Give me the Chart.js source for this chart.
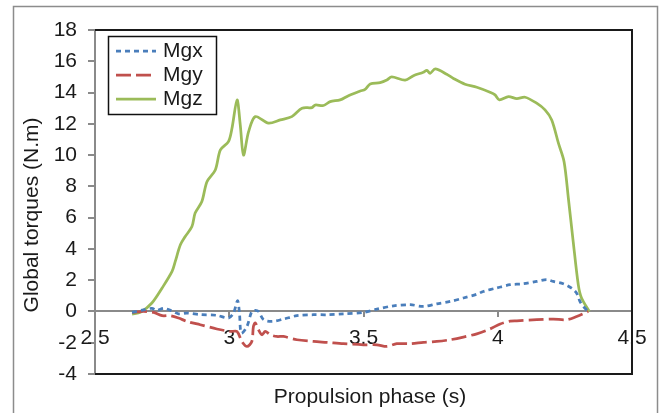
<!DOCTYPE html>
<html>
<head>
<meta charset="utf-8">
<script src="https://cdn.jsdelivr.net/npm/chart.js@4/dist/chart.umd.min.js"></script>
<style>
  html, body { margin: 0; padding: 0; background: #fff; }
  #wrap { width: 659px; height: 413px; position: relative; }
</style>
</head>
<body>
<div id="wrap"><canvas id="c" width="659" height="413"></canvas></div>
<script>
// Global torques about the three axes during the propulsion phase
const seriesNames = ['Mgx', 'Mgy', 'Mgz'];
const xAxisTitle = 'Propulsion phase (s)';
const yAxisTitle = 'Global torques (N.m)';

const mgxTime = [2.638, 2.681, 2.712, 2.731, 2.756, 2.781, 2.811, 2.843, 2.892, 2.954, 2.997, 3.016, 3.031, 3.038, 3.045, 3.066, 3.084, 3.097, 3.109, 3.128, 3.159, 3.202, 3.252, 3.314, 3.364, 3.425, 3.500, 3.550, 3.612, 3.674, 3.723, 3.773, 3.823, 3.872, 3.922, 3.946, 3.996, 4.046, 4.095, 4.145, 4.182, 4.207, 4.244, 4.275, 4.294, 4.306, 4.319, 4.337];
const mgxTorque = [-0.06, 0.10, 0.20, 0.07, 0.20, 0.07, -0.15, -0.10, -0.20, -0.25, -0.42, -0.10, 0.70, -0.10, -1.38, -0.96, 0.00, 0.07, 0.00, -0.53, -0.64, -0.49, -0.27, -0.21, -0.21, -0.15, -0.06, 0.15, 0.36, 0.43, 0.32, 0.49, 0.64, 0.86, 1.10, 1.28, 1.50, 1.71, 1.77, 1.92, 2.03, 1.92, 1.77, 1.49, 1.17, 0.64, 0.32, 0.00];

const mgyTime = [2.638, 2.681, 2.718, 2.750, 2.780, 2.811, 2.843, 2.892, 2.954, 3.004, 3.029, 3.047, 3.066, 3.084, 3.090, 3.097, 3.109, 3.122, 3.134, 3.153, 3.177, 3.202, 3.252, 3.314, 3.364, 3.425, 3.500, 3.550, 3.587, 3.624, 3.674, 3.723, 3.773, 3.823, 3.872, 3.922, 3.971, 4.009, 4.046, 4.071, 4.145, 4.207, 4.257, 4.294, 4.337];
const mgyTorque = [-0.06, 0.00, -0.06, -0.27, -0.27, -0.42, -0.64, -0.85, -1.12, -1.28, -1.28, -1.92, -2.24, -1.92, -0.96, -0.74, -1.17, -1.49, -1.28, -1.49, -1.60, -1.60, -1.81, -1.92, -1.98, -2.06, -2.13, -2.13, -2.24, -2.06, -2.06, -1.98, -1.92, -1.81, -1.64, -1.43, -1.12, -0.80, -0.62, -0.60, -0.53, -0.49, -0.53, -0.32, 0.00];

const mgzTime = [2.638, 2.669, 2.712, 2.750, 2.787, 2.799, 2.818, 2.836, 2.861, 2.873, 2.898, 2.917, 2.948, 2.967, 2.997, 3.010, 3.029, 3.041, 3.053, 3.072, 3.097, 3.146, 3.190, 3.233, 3.271, 3.308, 3.320, 3.351, 3.376, 3.413, 3.444, 3.488, 3.506, 3.525, 3.562, 3.587, 3.605, 3.655, 3.686, 3.723, 3.736, 3.748, 3.767, 3.810, 3.835, 3.878, 3.922, 3.971, 3.990, 4.006, 4.040, 4.071, 4.102, 4.145, 4.176, 4.201, 4.226, 4.247, 4.263, 4.281, 4.300, 4.312, 4.341];
const mgzTorque = [-0.17, -0.06, 0.54, 1.50, 2.56, 3.20, 4.26, 4.79, 5.43, 6.29, 7.03, 8.30, 9.05, 10.33, 10.86, 11.70, 13.53, 11.93, 10.00, 11.50, 12.46, 12.04, 12.25, 12.46, 13.00, 13.04, 13.20, 13.17, 13.42, 13.53, 13.80, 14.10, 14.20, 14.55, 14.63, 14.80, 15.00, 14.80, 15.08, 15.30, 15.42, 15.23, 15.51, 15.17, 14.90, 14.53, 14.34, 14.02, 13.85, 13.53, 13.74, 13.61, 13.70, 13.32, 12.89, 12.25, 10.76, 9.58, 7.24, 4.47, 1.70, 0.86, 0.00];

const FONT = "'Liberation Sans', Arial, Helvetica, sans-serif";
const TEXT = '#1a1a1a';
const AXIS_GREY = '#8a8a8a';

const pairs = (xs, ys) => xs.map((x, i) => ({ x, y: ys[i] }));

// Plot frame, outer frame and axis titles
const framePlugin = {
  id: 'frame',
  beforeDraw(chart) {
    const ctx = chart.ctx;
    ctx.save();
    ctx.fillStyle = '#fff';
    ctx.fillRect(0, 0, chart.width, chart.height);
    ctx.strokeStyle = '#8c8c8c';
    ctx.lineWidth = 1.5;
    ctx.strokeRect(13.5, 6.5, 644, 460);
    ctx.restore();
  },
  afterDraw(chart) {
    const { ctx, chartArea: a } = chart;
    ctx.save();
    ctx.strokeStyle = '#1a1a1a';
    ctx.lineWidth = 2;
    ctx.beginPath();
    ctx.moveTo(a.left, a.top);
    ctx.lineTo(a.right, a.top);
    ctx.lineTo(a.right, a.bottom);
    ctx.lineTo(a.left, a.bottom);
    ctx.stroke();

    ctx.fillStyle = TEXT;
    ctx.font = '21px ' + FONT;
    ctx.textAlign = 'center';
    ctx.textBaseline = 'alphabetic';
    ctx.fillText(xAxisTitle, 370, 403);

    ctx.translate(38, 215);
    ctx.rotate(-Math.PI / 2);
    ctx.fillText(yAxisTitle, 0, 0);
    ctx.restore();
  }
};

// Boxed legend inside the plot area
const legendPlugin = {
  id: 'boxLegend',
  afterDraw(chart) {
    const ctx = chart.ctx;
    ctx.save();
    ctx.fillStyle = '#fff';
    ctx.fillRect(108, 36, 108, 78);
    ctx.strokeStyle = '#111';
    ctx.lineWidth = 1.5;
    ctx.strokeRect(108.5, 36.5, 108, 78);
    chart.data.datasets.forEach((ds, i) => {
      const y = 51 + i * 24;
      ctx.beginPath();
      ctx.setLineDash(ds.borderDash || []);
      ctx.strokeStyle = ds.borderColor;
      ctx.lineWidth = ds.borderWidth;
      ctx.moveTo(116, y);
      ctx.lineTo(156, y);
      ctx.stroke();
      ctx.setLineDash([]);
      ctx.fillStyle = TEXT;
      ctx.font = '21px ' + FONT;
      ctx.textAlign = 'left';
      ctx.textBaseline = 'alphabetic';
      ctx.fillText(ds.label, 163, y + 6);
    });
    ctx.restore();
  }
};

new Chart(document.getElementById('c'), {
  type: 'line',
  data: {
    datasets: [
      { label: seriesNames[0], data: pairs(mgxTime, mgxTorque), borderColor: '#4a7ebb', borderWidth: 2.75, borderDash: [5, 4], pointRadius: 0, tension: 0.3, fill: false },
      { label: seriesNames[1], data: pairs(mgyTime, mgyTorque), borderColor: '#c0504d', borderWidth: 2.75, borderDash: [15, 5], pointRadius: 0, tension: 0.3, fill: false },
      { label: seriesNames[2], data: pairs(mgzTime, mgzTorque), borderColor: '#9bbb59', borderWidth: 2.75, pointRadius: 0, tension: 0.3, fill: false }
    ]
  },
  options: {
    responsive: false,
    animation: false,
    devicePixelRatio: 1,
    layout: { padding: { left: 0, top: 30, right: 27, bottom: 39 } },
    plugins: { legend: { display: false }, tooltip: { enabled: false }, title: { display: false } },
    scales: {
      x: {
        type: 'linear',
        position: { y: 0 },
        min: 2.5, max: 4.5,
        ticks: { stepSize: 0.5, color: TEXT, font: { family: FONT, size: 21 }, padding: 9, maxRotation: 0, autoSkip: false, callback: v => String(Number(v)) },
        grid: { drawOnChartArea: false, drawTicks: true, tickLength: 5, color: AXIS_GREY, lineWidth: 2 },
        border: { display: true, color: AXIS_GREY, width: 2 }
      },
      y: {
        type: 'linear',
        position: 'left',
        min: -4, max: 18,
        afterFit(scale) { scale.width = 95; },
        ticks: { stepSize: 2, color: TEXT, font: { family: FONT, size: 21 }, padding: 11 },
        grid: { drawOnChartArea: false, drawTicks: true, tickLength: 7, color: AXIS_GREY, lineWidth: 2 },
        border: { display: true, color: AXIS_GREY, width: 2 }
      }
    }
  },
  plugins: [framePlugin, legendPlugin]
});
</script>
</body>
</html>
